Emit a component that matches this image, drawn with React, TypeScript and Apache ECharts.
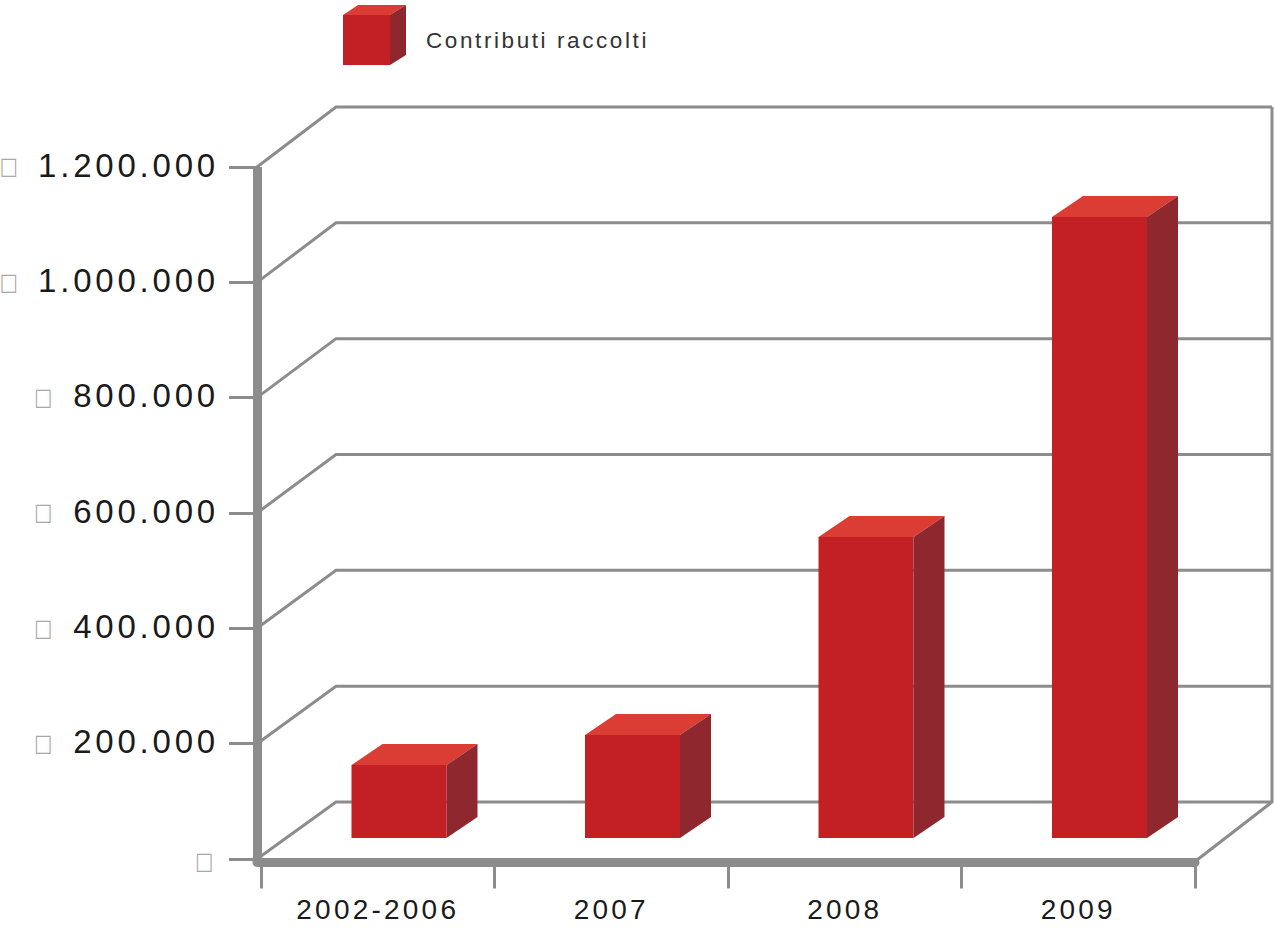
import React, { useEffect, useRef } from "react";
import * as echarts from "echarts";

const categories = ["2002-2006", "2007", "2008", "2009"];
const contributi = [126500, 178500, 522000, 1077000];
const yTicks = [0, 200000, 400000, 600000, 800000, 1000000, 1200000];
const yTickLabels = ["", "200.000", "400.000", "600.000", "800.000", "1.000.000", "1.200.000"];
const seriesName = "Contributi raccolti";

const GREY = "#8b8c8b";
const FRONT = "#c22025";
const TOP = "#db3c33";
const SIDE = "#8e282e";
const FONT = "'Liberation Sans', Arial, sans-serif";

// depth of the chart's "room"
const backDx = 79;
const backDy = (v: number) => 57 + 3 * (v / 1200000);
const roomRight = 1272;

function renderWalls(params: any, api: any) {
  const v = api.value(1);
  const [x0, y] = api.coord([0, v]);
  const band = api.size([1, 0])[0];
  const axisX = x0 - band / 2 - 4;
  const by = y - backDy(v);
  const children: any[] = [
    {
      type: "polyline",
      shape: { points: [[axisX, y], [axisX + backDx, by], [roomRight, by]] },
      style: { stroke: GREY, lineWidth: 3, fill: "none" },
    },
  ];
  if (v === 0) {
    const rightX = x0 + band * 3.5;
    children.push(
      {
        type: "polyline",
        shape: { points: [[rightX + 2, y + 1], [roomRight, by], [roomRight, by - 695]] },
        style: { stroke: GREY, lineWidth: 3, fill: "none" },
      },
      {
        type: "polyline",
        shape: { points: [[axisX, y], [axisX, y + 3.5], [axisX + 6, y + 3.5]] },
        style: { stroke: GREY, lineWidth: 9, fill: "none", lineJoin: "round", lineCap: "round" },
      }
    );
  }
  return { type: "group", children };
}

function renderBoxes(params: any, api: any) {
  const v = api.value(1);
  const y = api.coord([0, v])[1];
  const cx = v === 0 ? 205.5 : v >= 1000000 ? 10 : 44.5;
  return {
    type: "text",
    x: cx,
    y: v === 0 ? y + 2 : y - 1,
    scaleX: 0.8,
    style: {
      text: "□",
      fill: "#a8a8a8",
      font: "24px 'DejaVu Sans'",
      align: "center",
      verticalAlign: "middle",
    },
  };
}

function renderBar(params: any, api: any) {
  const i = api.value(0);
  const [cx, topY] = api.coord([i, api.value(1)]);
  const baseY = api.coord([i, 0])[1];
  const w = 95;
  const dx = 31;
  const dy = 21;
  const shift = 21.25;
  const l = cx + shift - w / 2;
  const r = l + w;
  const t = topY - dy;
  const b = baseY - dy;
  return {
    type: "group",
    children: [
      { type: "rect", shape: { x: l, y: t, width: w, height: b - t }, style: { fill: FRONT } },
      {
        type: "polygon",
        shape: { points: [[l, t], [l + dx, t - dy], [r + dx, t - dy], [r, t]] },
        style: { fill: TOP },
      },
      {
        type: "polygon",
        shape: { points: [[r, t], [r + dx, t - dy], [r + dx, b - dy], [r, b]] },
        style: { fill: SIDE },
      },
    ],
  };
}

export default function App() {
  const ref = useRef<HTMLDivElement>(null);
  useEffect(() => {
    const chart = echarts.init(ref.current!, undefined, { renderer: "svg" });
    chart.setOption({
      animation: false,
      backgroundColor: "#ffffff",
      grid: { left: 261, right: 79, top: 167, bottom: 69 },
      legend: {
        left: 343,
        top: 15,
        padding: 0,
        itemWidth: 47,
        itemHeight: 50,
        icon: "rect",
        selectedMode: false,
        data: [seriesName],
        textStyle: {
          fontFamily: FONT,
          fontSize: 22.5,
          color: "#333333",
          verticalAlign: "bottom",
          lineHeight: 4,
          padding: [0, 0, 0, 31],
        },
      },
      graphic: [
        { type: "polygon", shape: { points: [[343, 15], [358, 5], [406, 5], [390, 15]] }, style: { fill: TOP } },
        { type: "polygon", shape: { points: [[390, 15], [406, 5], [406, 55], [390, 65]] }, style: { fill: SIDE } },
      ],
      xAxis: {
        type: "category",
        data: categories,
        offset: 3.5,
        axisLine: { onZero: false, lineStyle: { color: GREY, width: 9, cap: "round" } },
        axisTick: { show: true, length: 26, lineStyle: { color: GREY, width: 3 } },
        axisLabel: {
          margin: 33,
          fontFamily: FONT,
          fontSize: 28,
          color: "#1a1a1a",
          interval: 0,
        },
      },
      yAxis: {
        type: "value",
        min: 0,
        max: 1200000,
        interval: 200000,
        offset: 4,
        splitLine: { show: false },
        axisLine: { show: true, lineStyle: { color: GREY, width: 9, cap: "butt" } },
        axisTick: { show: true, length: 28, lineStyle: { color: GREY, width: 3 } },
        axisLabel: {
          margin: 38,
          fontFamily: FONT,
          fontSize: 33,
          color: "#1a1a1a",
          verticalAlign: "bottom",
          lineHeight: 4,
          formatter: (v: number) => yTickLabels[yTicks.indexOf(v)],
        },
      },
      series: [
        {
          type: "custom",
          silent: true,
          renderItem: renderWalls,
          data: yTicks.map((v) => [0, v]),
          z: 1,
        },
        {
          type: "custom",
          silent: true,
          renderItem: renderBoxes,
          data: yTicks.map((v) => [0, v]),
          z: 1,
        },
        {
          type: "custom",
          name: seriesName,
          itemStyle: { color: FRONT },
          renderItem: renderBar,
          data: contributi.map((v, i) => [i, v]),
          z: 3,
        },
      ],
    });
    return () => chart.dispose();
  }, []);
  return (
    <>
      <style>{`.chart3d text { letter-spacing: 0.115em; }`}</style>
      <div
        ref={ref}
        className="chart3d"
        style={{ position: "fixed", left: 0, top: 0, width: 1274, height: 928 }}
      />
    </>
  );
}
